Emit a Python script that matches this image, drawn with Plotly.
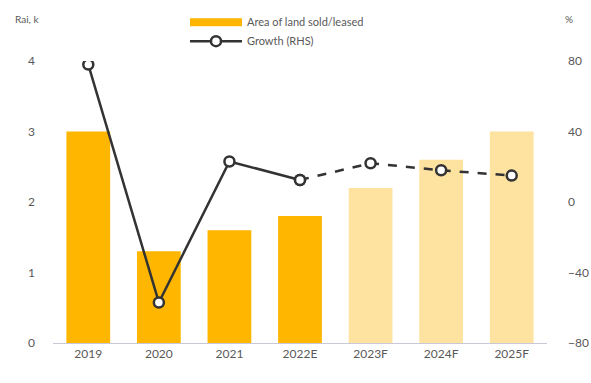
import plotly.graph_objects as go

# Land sold/leased (thousand rai) and year-on-year growth (%)
years = ["2019", "2020", "2021", "2022E", "2023F", "2024F", "2025F"]
area = [3.0, 1.3, 1.6, 1.8, 2.2, 2.6, 3.0]
growth = [78, -57, 23, 12.5, 22, 18, 15]
n_actual = 4  # 2019..2022E are actual/estimate, rest forecast

ACTUAL = "#FFB600"
FORECAST = "#FDE2A0"
LINE = "#333333"
TXT = "#595959"
FONT = "Lato"

bar_colors = [ACTUAL if i < n_actual else FORECAST for i in range(len(years))]

fig = go.Figure()

fig.add_trace(go.Bar(
    x=years, y=area, marker=dict(color=bar_colors, line=dict(width=0)),
    width=0.62, showlegend=False, yaxis="y", hoverinfo="x+y",
))

# legend entry for the bars (long rounded swatch)
fig.add_trace(go.Scatter(
    x=[None], y=[None], mode="lines", name="Area of land sold/leased",
    line=dict(color=ACTUAL, width=8),
))

# solid growth line over actual years
fig.add_trace(go.Scatter(
    x=years[:n_actual], y=growth[:n_actual], yaxis="y2", mode="lines+markers",
    name="Growth (RHS)",
    line=dict(color=LINE, width=2.5),
    marker=dict(size=10, color="white", line=dict(color=LINE, width=2.5)),
))

# dashed growth line over forecast years
fig.add_trace(go.Scatter(
    x=years[n_actual - 1:], y=growth[n_actual - 1:], yaxis="y2",
    mode="lines+markers", showlegend=False,
    line=dict(color=LINE, width=2.5, dash="dash"),
    marker=dict(size=10, color="white", line=dict(color=LINE, width=2.5)),
))

fig.update_layout(
    width=591, height=383,
    margin=dict(l=53, r=44, t=61, b=40, autoexpand=False),
    paper_bgcolor="white", plot_bgcolor="white",
    font=dict(family=FONT, size=12, color=TXT),
    bargap=0.38,
    xaxis=dict(
        showgrid=False, showline=True, linecolor="#c8c8d8", linewidth=1,
        ticks="", tickfont=dict(size=12, color=TXT), zeroline=False,
    ),
    yaxis=dict(
        range=[0, 4], dtick=1, showgrid=False, zeroline=False, showline=False,
        ticklabelstandoff=17, tickfont=dict(size=12, color=TXT),
    ),
    yaxis2=dict(
        range=[-80, 80], dtick=40, overlaying="y", side="right",
        showgrid=False, zeroline=False, showline=False,
        ticklabelstandoff=20, tickfont=dict(size=12, color=TXT),
    ),
    legend=dict(
        xref="container", yref="container",
        x=0.313, y=0.98, xanchor="left", yanchor="top",
        orientation="v", itemwidth=52, tracegroupgap=0,
        font=dict(size=11, color=TXT), bgcolor="rgba(0,0,0,0)",
    ),
    annotations=[
        dict(text="Rai, k", xref="paper", yref="paper", x=-0.08, y=1.15,
             xanchor="left", yanchor="middle", showarrow=False,
             font=dict(size=10, color=TXT)),
        dict(text="%", xref="paper", yref="paper", x=1.032, y=1.15,
             xanchor="left", yanchor="middle", showarrow=False,
             font=dict(size=10, color=TXT)),
    ],
)

fig.write_html("out.html")
